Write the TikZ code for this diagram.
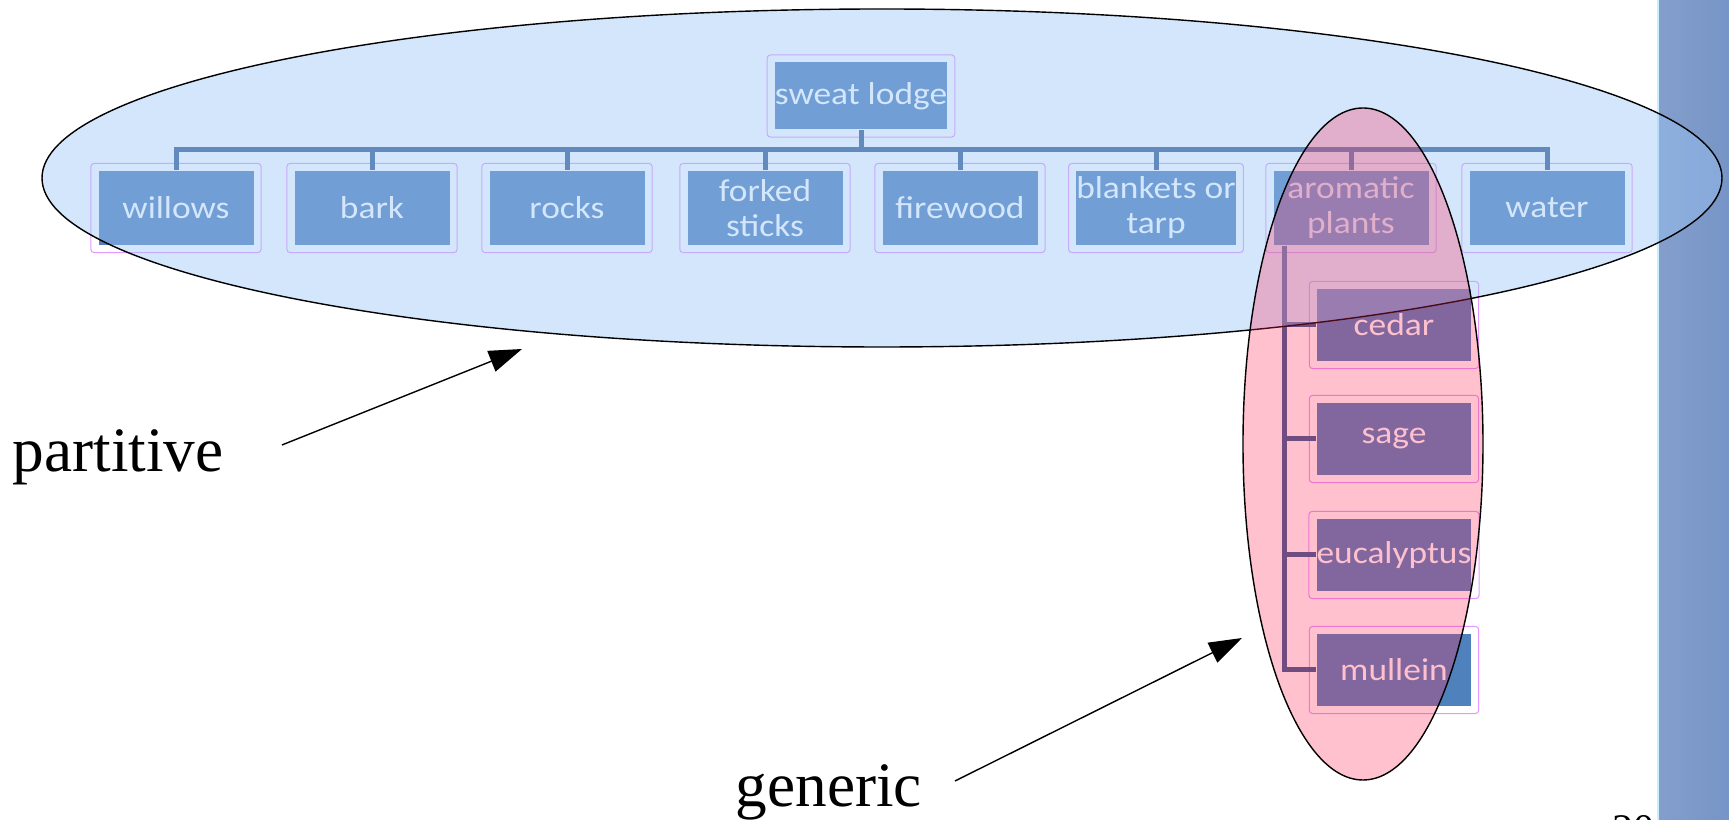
\documentclass[tikz,border=0pt]{standalone}
\usepackage{fontspec}
\setmainfont{Liberation Serif}
\newfontfamily\boxfont[FakeStretch=1.12]{Carlito}
\usetikzlibrary{arrows.meta}
\definecolor{boxblue}{RGB}{79,129,189}
\definecolor{linkblue}{RGB}{54,93,147}
\definecolor{framelilac}{RGB}{230,150,255}
\definecolor{partblue}{RGB}{156,198,246}
\definecolor{genpink}{RGB}{255,41,86}
\definecolor{stripblue}{RGB}{118,148,198}

\begin{document}
\begin{tikzpicture}[x=0.1mm,y=-0.1mm,
  item/.style={fill=boxblue,text=white,minimum width=15.5mm,minimum height=7.4mm,inner sep=0pt,align=center,font=\boxfont\fontsize{9}{10}\selectfont},
  subitem/.style={item,minimum width=15.4mm,minimum height=7.2mm},
  link/.style={draw=linkblue,line width=0.5mm},
  boxframe/.style={draw=framelilac,line width=0.3pt,rounded corners=1pt},
  pointer/.style={-{Triangle[length=3.3mm,width=2.2mm]},line width=0.4pt},
  namelabel/.style={font=\fontsize{18}{20}\selectfont,anchor=base west,inner sep=0pt}]
\useasboundingbox (0,0) rectangle (1729,820);
% slide background strip
\shade[left color=stripblue!90!white,right color=stripblue] (1658,0) rectangle (1729,820);
\draw[white!80!cyan,line width=0.6pt] (1658,0) -- (1658,820);

% the tree
\node[item,minimum height=6.7mm] (lodge) at (861,96){sweat lodge};
\node[item] (willows) at (176,208){willows};
\node[item] (bark) at (372,208){bark};
\node[item] (rocks) at (567,208){rocks};
\node[item] (sticks) at (765,208){forked\\sticks};
\node[item] (firewood) at (960,208){firewood};
\node[item] (blankets) at (1156,208){blankets or\\tarp};
\node[item] (aromatic) at (1351,208){aromatic\\plants};
\node[item] (water) at (1547,208){water};
\node[subitem] (cedar) at (1394,325){cedar};
\node[subitem] (sage) at (1394,439){sage};
\node[subitem] (eucalyptus) at (1394,555){eucalyptus};
\node[subitem] (mullein) at (1394,670){mullein};
\foreach \n in {lodge,willows,bark,rocks,sticks,firewood,blankets,aromatic,water,cedar,sage,eucalyptus,mullein}{
  \draw[boxframe] ([shift={(-7,-7)}]\n.north west) rectangle ([shift={(7,7)}]\n.south east);
}
\foreach \n in {willows,bark,rocks,sticks,firewood,blankets,aromatic,water}{
  \draw[link] (lodge.south) -- ++(0,19) -| (\n.north);
}
\foreach \n in {cedar,sage,eucalyptus,mullein}{
  \draw[link] ([shift={(12,0)}]aromatic.south west) |- (\n.west);
}

% the two groups
\filldraw[fill=partblue,fill opacity=0.43,line width=0.4pt] (882,178) ellipse [x radius=840,y radius=169];
\filldraw[fill=genpink,fill opacity=0.29,line width=0.4pt] (1363,444) ellipse [x radius=120,y radius=336];

\node[namelabel] (partitive) at (12,472){partitive};
\node[namelabel] (generic) at (735,807){generic};
\coordinate (pfrom) at (282,445);
\coordinate (pto) at (522,349);
\coordinate (gfrom) at (955,781);
\coordinate (gto) at (1242,638);
\draw[pointer] (pfrom) -- (pto);
\draw[pointer] (gfrom) -- (gto);
% page number, cut off by the page edge
\node[anchor=base west,inner sep=0pt,font=\fontsize{12}{14}\selectfont] (pagenum) at (1612,844){20};
\end{tikzpicture}
\end{document}
